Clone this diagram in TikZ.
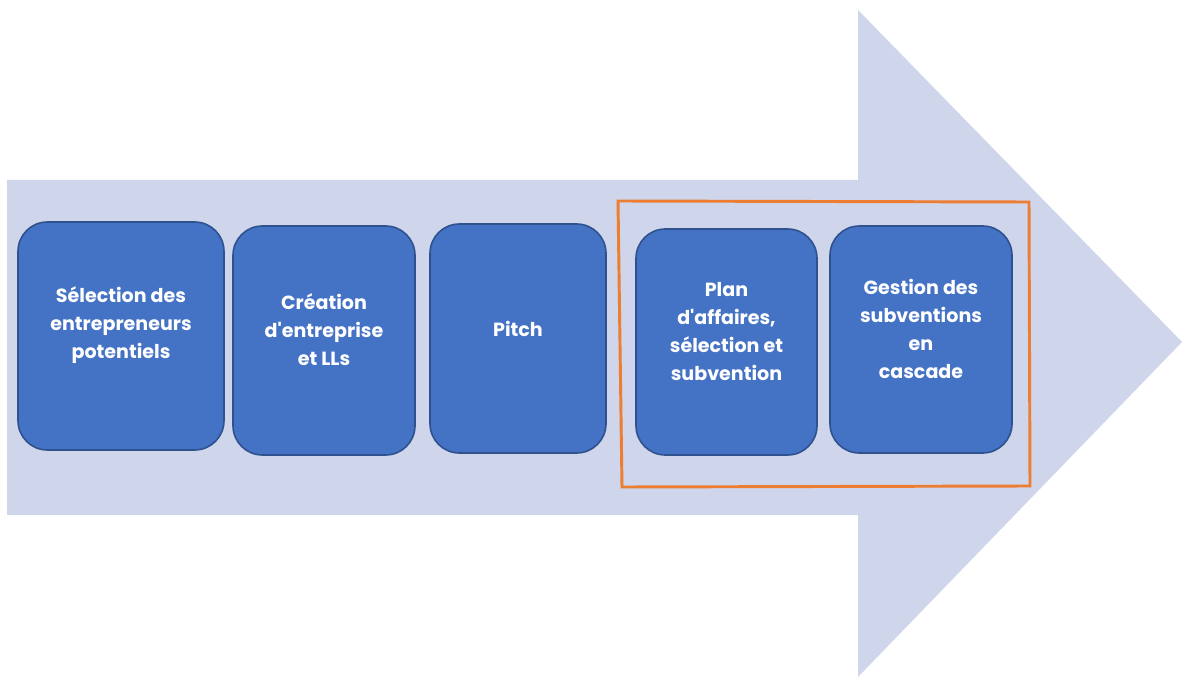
\documentclass[tikz,border=0pt]{standalone}
\usepackage{fontspec}
\setmainfont{Poppins}
\usetikzlibrary{positioning}

\definecolor{arrowfill}{HTML}{CFD5EA}
\definecolor{boxfill}{HTML}{4472C4}
\definecolor{boxline}{HTML}{2F528F}
\definecolor{frameline}{HTML}{ED7D31}

\tikzset{
  stepbox/.style={draw=boxline, line width=1.2pt, fill=boxfill,
    rounded corners=22pt, inner sep=0pt},
  steptext/.style={text=white, font=\fontsize{14.3}{21}\selectfont\bfseries,
    align=center, inner sep=0pt}
}

\begin{document}
\begin{tikzpicture}[x=0.75pt,y=-0.75pt]
    \useasboundingbox (0,0) rectangle (1182,677);

    % big arrow
    \fill[arrowfill] (7,180) -- (858,180) -- (858,10) -- (1182,342)
        -- (858,677) -- (858,515) -- (7,515) -- cycle;

    % steps
    \node[stepbox, minimum width=154.5pt, minimum height=171pt] (sel) at (121,336) {};
    \node[stepbox, minimum width=136.5pt, minimum height=171.75pt] (crea) at (324,340.5) {};
    \node[stepbox, minimum width=132pt, minimum height=171.75pt] (pitch) at (518,338.5) {};
    \node[stepbox, minimum width=135.75pt, minimum height=169.5pt] (plan) at (726.5,342) {};
    \node[stepbox, minimum width=136.5pt, minimum height=170.25pt] (gest) at (921,339.5) {};

    \node[steptext] (selt) at ([yshift=8pt]sel.center) {Sélection des\\entrepreneurs\\potentiels};
    \node[steptext] (creat) at ([yshift=8pt]crea.center) {Création\\d\textquotesingle entreprise\\et LLs};
    \node[steptext] (pitcht) at ([yshift=7pt]pitch.center) {Pitch};
    \node[steptext] (plant) at ([yshift=8pt]plan.center) {Plan\\d\textquotesingle affaires,\\sélection et\\subvention};
    \node[steptext] (gestt) at ([yshift=8pt]gest.center) {Gestion des\\subventions\\en\\cascade};

    % highlight frame
    \draw[frameline, line width=2.2pt] (618,201) -- (1029,202) -- (1030,486) -- (622,487) -- cycle;

\end{tikzpicture}
\end{document}
